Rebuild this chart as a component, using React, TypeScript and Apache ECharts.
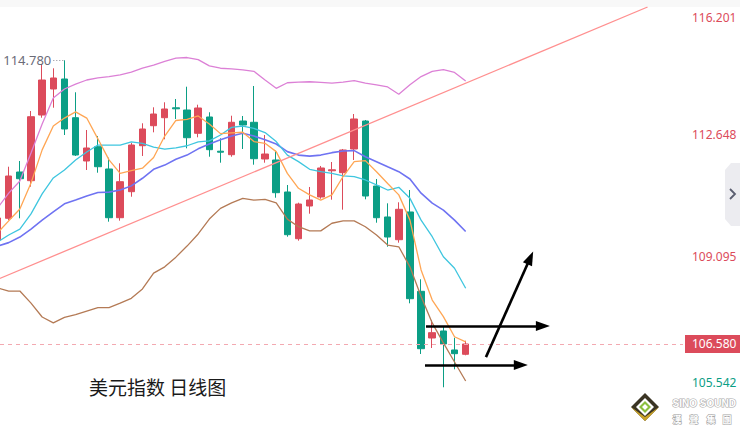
import React, { useEffect, useRef } from 'react';
import * as echarts from 'echarts';

// ---- data ----
const categories: string[] = Array.from({ length: 62 }, (_, i) => `D${i + 1}`);

const openPrices = [109.586, 110.213, 111.551, 111.3, 113.198, 113.95, 114.239, 113.12, 111.869, 112.282, 111.638, 110.23, 110.982, 112.311, 112.889, 113.12, 113.407, 113.343, 112.67, 113.141, 112.152, 112.051, 113.025, 112.988, 111.927, 111.898, 110.973, 109.623, 110.568, 110.829, 111.586, 111.531, 112.216, 113.025, 111.146, 110.251, 109.594, 110.395, 108.103, 106.753, 106.956, 106.407, 106.282];
const closePrices = [110.222, 111.435, 111.357, 113.149, 114.21, 114.268, 112.794, 112.042, 112.245, 111.704, 110.23, 111.271, 112.331, 112.794, 113.227, 113.372, 113.378, 112.542, 113.401, 112.196, 112.123, 112.988, 112.909, 111.935, 112.071, 110.953, 109.739, 110.626, 110.742, 111.667, 111.615, 112.187, 113.083, 110.857, 110.23, 109.672, 110.473, 107.889, 106.444, 106.907, 106.58, 106.3, 106.58];
const lowPrices = [109.47, 110.164, 110.213, 111.126, 113.12, 113.409, 112.62, 112.014, 111.609, 111.531, 110.115, 110.144, 110.837, 112.014, 112.698, 112.496, 113.083, 112.236, 112.554, 111.993, 111.82, 111.993, 112.216, 111.762, 111.82, 110.808, 109.681, 109.566, 110.346, 110.779, 110.751, 110.462, 111.898, 110.762, 110.086, 109.392, 109.508, 107.756, 106.291, 106.464, 105.329, 105.849, 106.253];
const highPrices = [110.337, 111.704, 111.869, 113.314, 114.672, 114.548, 114.78, 113.855, 112.765, 112.592, 111.964, 111.803, 112.389, 112.959, 113.421, 113.566, 113.661, 114.016, 113.496, 113.277, 112.525, 113.178, 113.17, 114.037, 112.62, 112.167, 111.175, 110.664, 111.118, 111.725, 111.84, 112.216, 113.227, 113.054, 111.349, 110.646, 110.675, 111.031, 108.45, 107.274, 107.1, 106.762, 106.675];

const ma5 = [109.79, 110.14, 110.48, 111.23, 112.19, 112.88, 113.11, 113.29, 113.11, 112.51, 111.9, 111.51, 111.59, 111.66, 111.97, 112.59, 113.04, 113.07, 113.17, 112.94, 112.66, 112.68, 112.7, 112.43, 112.38, 112.14, 111.51, 111.08, 110.89, 110.74, 110.89, 111.42, 111.85, 111.88, 111.56, 111.22, 110.89, 110.16, 108.72, 107.85, 107.37, 106.79, 106.64];
const ma10 = [109.53, 109.73, 109.9, 110.34, 110.92, 111.38, 111.61, 111.9, 112.13, 112.33, 112.33, 112.33, 112.42, 112.38, 112.27, 112.21, 112.25, 112.31, 112.42, 112.45, 112.62, 112.84, 112.88, 112.81, 112.69, 112.43, 112.04, 111.85, 111.63, 111.56, 111.51, 111.44, 111.42, 111.32, 111.18, 111.03, 111.11, 110.79, 110.16, 109.68, 109.1, 108.77, 108.19];
const ma20 = [109.41, 109.51, 109.67, 109.9, 110.16, 110.4, 110.63, 110.74, 110.86, 110.96, 110.97, 111.03, 111.15, 111.37, 111.63, 111.75, 111.92, 112.04, 112.22, 112.36, 112.48, 112.59, 112.67, 112.59, 112.48, 112.36, 112.14, 112.04, 112.01, 112.04, 112.11, 112.16, 112.17, 111.99, 111.85, 111.7, 111.56, 111.35, 110.94, 110.65, 110.45, 110.16, 109.83];
const bollUpper = [110.51, 110.94, 111.29, 112.1, 112.94, 113.69, 113.95, 114.09, 114.21, 114.27, 114.31, 114.36, 114.44, 114.55, 114.64, 114.75, 114.84, 114.86, 114.8, 114.62, 114.55, 114.53, 114.5, 114.46, 114.21, 113.97, 114.13, 114.15, 114.16, 114.14, 114.12, 114.15, 114.19, 114.12, 114.07, 114.01, 113.8, 114.07, 114.31, 114.46, 114.51, 114.43, 114.18];
const bollLower = [108.2, 108.11, 108.11, 107.76, 107.36, 107.19, 107.35, 107.43, 107.53, 107.63, 107.63, 107.76, 107.9, 108.17, 108.63, 108.81, 109.09, 109.41, 109.76, 110.19, 110.5, 110.66, 110.79, 110.74, 110.76, 110.66, 110.19, 109.97, 109.85, 109.85, 110.07, 110.14, 110.14, 109.97, 109.73, 109.44, 109.39, 108.81, 107.95, 107.19, 106.61, 106.06, 105.51];

const yTickLabels = [116.201, 112.648, 109.095, 105.542];
const lastPrice = 106.58;
const maxHigh = { index: 6, value: 114.78, from: 5 };

// trend line and hand-drawn arrows, in (candle position, price) units
const trendLine = [[-0.5, 108.38], [58.32, 116.32]];
const arrowUpper = [[38.44, 107.1], [48.93, 107.1]];
const arrowLower = [[38.35, 105.97], [46.95, 105.97]];
const arrowDiagonal = [[43.82, 106.2], [47.8, 109.07]];

const RED = '#dc4b5b';
const GREEN = '#0b9e85';

export default function App() {
  const ref = useRef<HTMLDivElement>(null);
  useEffect(() => {
    if (!ref.current) return;
    const chart = echarts.init(ref.current, undefined, { renderer: 'svg' });
    const candleData = openPrices.map((o, i) => [o, closePrices[i], lowPrices[i], highPrices[i]]);
    const lineSeries = (name: string, data: number[], color: string, width: number) => ({
      name,
      type: 'line',
      data,
      symbol: 'none',
      smooth: false,
      silent: true,
      lineStyle: { color, width },
      z: 3,
    });
    const arrowItem = (pts: number[][]) => [{ coord: pts[0] }, { coord: pts[1] }];
    const logoText = (text: string, left: number, top: number, size: number, family: string) => ({
      type: 'text',
      left,
      top,
      style: { text, fill: '#ffffff', stroke: '#a9a9a9', lineWidth: 1.2, fontSize: size, fontWeight: 'bold', fontFamily: family },
    });
    const option: any = {
      animation: false,
      backgroundColor: '#ffffff',
      grid: { left: -8, right: 57, top: 7, bottom: 0, containLabel: false, outerBoundsMode: 'none' },
      xAxis: [
        { type: 'category', data: categories, boundaryGap: true, show: false },
        { type: 'value', min: -0.5, max: 61.5, show: false },
      ],
      yAxis: {
        type: 'value',
        position: 'right',
        min: 104.123,
        max: 116.32,
        scale: true,
        splitLine: { show: false },
        axisTick: { show: false },
        axisLine: { show: true, lineStyle: { color: '#e9e9ec', width: 1 } },
        axisLabel: {
          customValues: yTickLabels,
          margin: 9,
          fontSize: 12,
          fontFamily: 'Noto Sans',
          formatter: (v: number) => {
            const s = Number(v).toFixed(3);
            if (v > 116) return `{top|${s}}`;
            if (v < 106) return `{bot|${s}}`;
            return `{mid|${s}}`;
          },
          rich: {
            top: { color: RED, fontSize: 12, fontFamily: 'Noto Sans', padding: [12, 0, 0, 0] },
            mid: { color: RED, fontSize: 12, fontFamily: 'Noto Sans' },
            bot: { color: GREEN, fontSize: 12, fontFamily: 'Noto Sans', padding: [6, 0, 0, 0] },
          },
        },
      },
      series: [
        {
          name: 'k',
          type: 'candlestick',
          data: candleData,
          barWidth: 7,
          itemStyle: { color: RED, color0: GREEN, borderColor: RED, borderColor0: GREEN, borderWidth: 1 },
          markLine: {
            silent: true,
            symbol: ['none', 'none'],
            animation: false,
            data: [
              {
                yAxis: lastPrice,
                lineStyle: { color: '#f3a9b1', width: 1, type: [4, 4] },
                label: {
                  show: true,
                  position: 'end',
                  distance: 2,
                  formatter: lastPrice.toFixed(3),
                  color: '#ffffff',
                  backgroundColor: RED,
                  fontSize: 12,
                  fontFamily: 'Noto Sans',
                  padding: [3, 8, 3, 7],
                },
              },
              [
                {
                  coord: [maxHigh.from, maxHigh.value],
                  lineStyle: { color: '#8a8a96', width: 1, type: [1, 2] },
                  label: {
                    show: true,
                    position: 'start',
                    distance: 2,
                    formatter: maxHigh.value.toFixed(3),
                    color: '#6b6b78',
                    fontSize: 13,
                    fontFamily: 'Noto Sans',
                  },
                },
                { coord: [maxHigh.index, maxHigh.value] },
              ],
            ],
          },
          z: 2,
        },
        lineSeries('upper', bollUpper, '#dc80d6', 1.3),
        lineSeries('lower', bollLower, '#b47a55', 1.3),
        lineSeries('ma20', ma20, '#6f73f2', 1.6),
        lineSeries('ma10', ma10, '#3fc6df', 1.3),
        lineSeries('ma5', ma5, '#ffa654', 1.3),
        {
          name: 'trend',
          type: 'line',
          xAxisIndex: 1,
          data: trendLine,
          symbol: 'none',
          silent: true,
          clip: true,
          lineStyle: { color: '#ff8f8f', width: 1.3 },
          z: 3,
          markLine: {
            silent: true,
            animation: false,
            symbol: ['none', 'triangle'],
            symbolSize: [10, 14],
            label: { show: false },
            lineStyle: { color: '#000000', width: 2.6, type: 'solid' },
            itemStyle: { color: '#000000' },
            data: [arrowItem(arrowUpper), arrowItem(arrowLower), arrowItem(arrowDiagonal)],
          },
        },
      ],
      graphic: [
        { type: 'rect', shape: { x: 0, y: 0, width: 740, height: 7 }, style: { fill: '#f8f8f8' }, silent: true },
        {
          type: 'polygon',
          shape: { points: [[731, 163], [740, 163], [740, 226], [731, 226], [725, 219], [725, 170]] },
          style: { fill: '#ececf0' },
          silent: true,
        },
        {
          type: 'polyline',
          shape: { points: [[730, 189], [735, 194], [730, 199]] },
          style: { stroke: '#5a5e70', lineWidth: 1.8, fill: 'none' },
          silent: true,
        },
        {
          type: 'text',
          left: 89,
          top: 377,
          style: { text: '美元指数 日线图', fill: '#1a1a1a', fontSize: 19, fontFamily: 'Noto Sans CJK SC' },
          silent: true,
        },
        {
          type: 'group',
          silent: true,
          children: [
            { type: 'polygon', shape: { points: [[645, 393], [659, 407], [645, 421], [631, 407]] }, style: { fill: '#3b3524' } },
            { type: 'polygon', shape: { points: [[631, 407], [645, 421], [659, 407], [645, 417]] }, style: { fill: '#c9a227' } },
            { type: 'polygon', shape: { points: [[645, 398], [654, 407], [645, 416], [636, 407]] }, style: { fill: '#ffffff' } },
            { type: 'polygon', shape: { points: [[645, 401], [651, 407], [645, 413], [639, 407]] }, style: { fill: '#8cbf3f' } },
            { type: 'polygon', shape: { points: [[645, 404], [648, 407], [645, 410], [642, 407]] }, style: { fill: '#ffffff' } },
            logoText('SINO SOUND', 672, 398, 10, 'Liberation Sans'),
            logoText('漢', 672, 414, 9, 'Noto Sans CJK TC'),
            logoText('聲', 689, 414, 9, 'Noto Sans CJK TC'),
            logoText('集', 706, 414, 9, 'Noto Sans CJK TC'),
            logoText('團', 722, 414, 9, 'Noto Sans CJK TC'),
          ],
        },
      ],
    };
    chart.setOption(option);
    return () => chart.dispose();
  }, []);
  return <div ref={ref} style={{ position: 'absolute', left: 0, top: 0, width: 740, height: 429 }} />;
}
